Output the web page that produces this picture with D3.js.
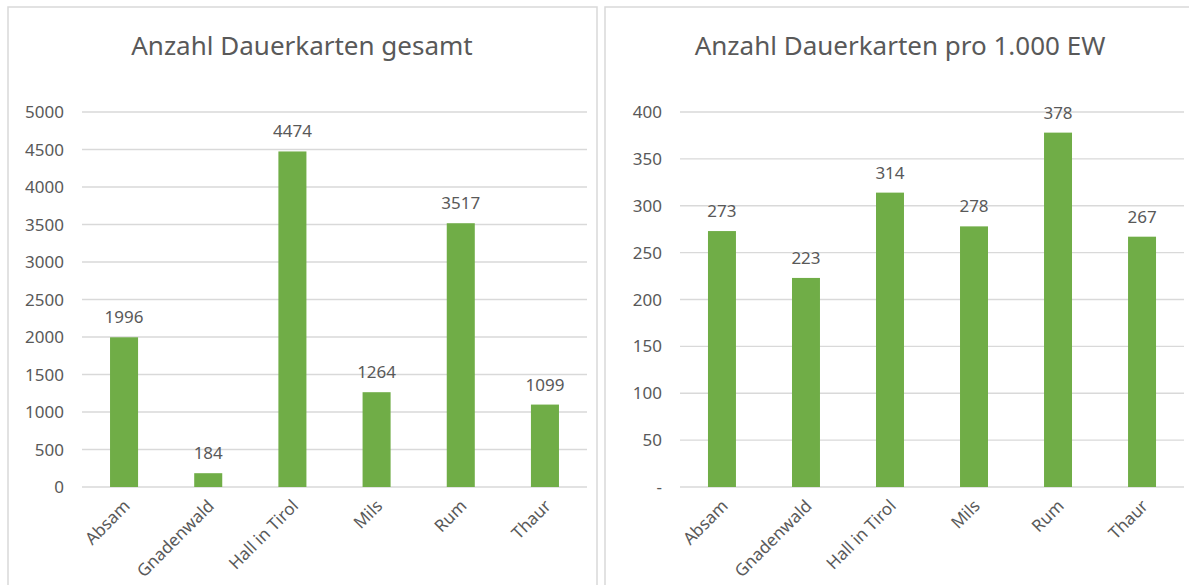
<!DOCTYPE html>
<html>
<head>
<meta charset="utf-8">
<script src="https://cdn.jsdelivr.net/npm/d3@7"></script>
<style>
  body { margin: 0; background: #fff; }
  text { font-family: "Noto Sans", "Open Sans", sans-serif; fill: #595959; }
</style>
</head>
<body>
<svg id="chart" width="1189" height="585"></svg>
<script>
var categories = ["Absam", "Gnadenwald", "Hall in Tirol", "Mils", "Rum", "Thaur"];
var totalValues = [1996, 184, 4474, 1264, 3517, 1099];
var perThousandValues = [273, 223, 314, 278, 378, 267];
var totalTicks = [0, 500, 1000, 1500, 2000, 2500, 3000, 3500, 4000, 4500, 5000];
var perThousandTicks = [0, 50, 100, 150, 200, 250, 300, 350, 400];

var svg = d3.select("#chart");

// one panel = one chart with its own frame
function drawPanel(opts) {
  var g = svg.append("g");

  g.append("rect")
    .attr("x", opts.frame[0]).attr("y", opts.frame[1])
    .attr("width", opts.frame[2]).attr("height", opts.frame[3])
    .attr("fill", "#fff").attr("stroke", "#d9d9d9").attr("stroke-width", 1.5);

  g.append("text")
    .attr("x", opts.titleX).attr("y", 55)
    .attr("text-anchor", "middle")
    .style("font-size", "26px")
    .text(opts.title);

  var x = d3.scaleBand().domain(categories).range([opts.left, opts.right]).paddingInner(0.667).paddingOuter(0.333);
  var y = d3.scaleLinear().domain([0, opts.max]).range([487, 112]);

  // gridlines
  g.selectAll("line.grid")
    .data(opts.ticks)
    .enter().append("line")
    .attr("x1", opts.left).attr("x2", opts.right)
    .attr("y1", function(d) { return y(d); })
    .attr("y2", function(d) { return y(d); })
    .attr("stroke", "#d9d9d9").attr("stroke-width", 1.3);

  // y labels
  g.selectAll("text.ytick")
    .data(opts.ticks)
    .enter().append("text")
    .attr("x", opts.left - 18)
    .attr("y", function(d) { return y(d) + 6; })
    .attr("text-anchor", "end")
    .style("font-size", "17px")
    .text(opts.fmt);

  // bars
  g.selectAll("rect.bar")
    .data(opts.values)
    .enter().append("rect")
    .attr("x", function(d, i) { return x(categories[i]); })
    .attr("y", function(d) { return y(d); })
    .attr("width", x.bandwidth())
    .attr("height", function(d) { return y(0) - y(d); })
    .attr("fill", "#70ad47");

  // value labels
  g.selectAll("text.val")
    .data(opts.values)
    .enter().append("text")
    .attr("x", function(d, i) { return x(categories[i]) + x.bandwidth() / 2; })
    .attr("y", function(d) { return y(d) - 14; })
    .attr("text-anchor", "middle")
    .style("font-size", "17px")
    .text(function(d) { return d; });

  // category labels, rotated like excel does
  g.selectAll("text.cat")
    .data(categories)
    .enter().append("text")
    .attr("transform", function(d) {
      var cx = x(d) + x.bandwidth() / 2 + 7;
      return "translate(" + cx + ",507) rotate(-45)";
    })
    .attr("text-anchor", "end")
    .style("font-size", "17px")
    .text(function(d) { return d; });
}

drawPanel({
  frame: [8, 7, 589, 600],
  title: "Anzahl Dauerkarten gesamt",
  titleX: 302,
  left: 82, right: 587,
  max: 5000,
  ticks: totalTicks,
  values: totalValues,
  fmt: function(d) { return d; }
});

drawPanel({
  frame: [605, 7, 600, 600],
  title: "Anzahl Dauerkarten pro 1.000 EW",
  titleX: 900,
  left: 680, right: 1184,
  max: 400,
  ticks: perThousandTicks,
  values: perThousandValues,
  fmt: function(d) { return d === 0 ? "-" : d; }
});
</script>
</body>
</html>
